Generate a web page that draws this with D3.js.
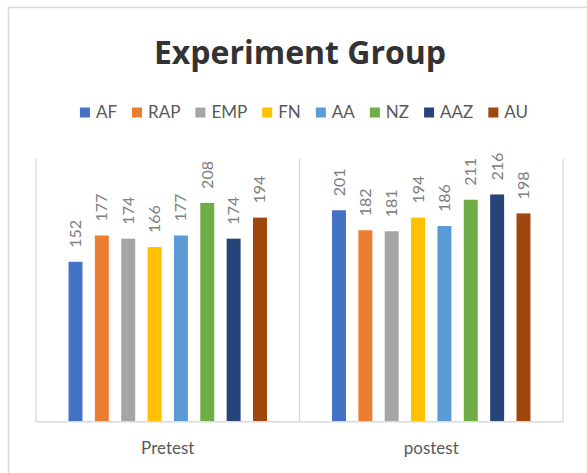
<!DOCTYPE html>
<html>
<head>
<meta charset="utf-8">
<script src="https://cdn.jsdelivr.net/npm/d3@7"></script>
<style>
  html, body { margin: 0; padding: 0; background: #fff; }
  svg { display: block; }
</style>
</head>
<body>
<svg id="chart" width="587" height="473"></svg>
<script>
const groups = ["Pretest", "postest"];
const series = ["AF", "RAP", "EMP", "FN", "AA", "NZ", "AAZ", "AU"];
const pretest = [152, 177, 174, 166, 177, 208, 174, 194];
const postest = [201, 182, 181, 194, 186, 211, 216, 198];
const colors = ["#4472C4", "#ED7D31", "#A5A5A5", "#FFC000", "#5B9BD5", "#70AD47", "#264478", "#9E480E"];
const yDomain = [0, 250];

const values = { "Pretest": pretest, "postest": postest };
const font = "Lato, 'Open Sans', sans-serif";

const svg = d3.select("#chart");
const W = 587, H = 473;

// chart border (extends beyond the right/bottom of the picture)
svg.append("path")
  .attr("d", `M8.5,${H} V7.5 H${W}`)
  .attr("fill", "none").attr("stroke", "#d9d9d9").attr("stroke-width", 1.5);

// title
svg.append("text")
  .attr("x", 300).attr("y", 64)
  .attr("text-anchor", "middle")
  .attr("font-family", "'Open Sans', Lato, sans-serif").attr("font-weight", "bold")
  .attr("font-size", 32).attr("fill", "#333333")
  .text("Experiment Group");

// scales
const plot = { left: 36, right: 563, top: 158.7, bottom: 421.7 };
const x0 = d3.scaleBand().domain(groups).range([plot.left, plot.right]).padding(0);
const x1 = d3.scaleBand().domain(series).range([0, x0.bandwidth()])
  .paddingInner(0.47).paddingOuter(1.234);
const y = d3.scaleLinear().domain(yDomain).range([plot.bottom, plot.top]);

// vertical separators
const seps = groups.map(g => x0(g)).concat([x0(groups[groups.length - 1]) + x0.bandwidth()]);
svg.append("g").selectAll("line").data(seps).join("line")
  .attr("x1", d => d).attr("x2", d => d)
  .attr("y1", plot.top).attr("y2", plot.bottom)
  .attr("stroke", "#d9d9d9").attr("stroke-width", 1.3);

// bars
const gG = svg.append("g").selectAll("g").data(groups).join("g")
  .attr("transform", g => `translate(${x0(g)},0)`);

gG.selectAll("rect").data(g => series.map((s, i) => ({ s, i, v: values[g][i] })))
  .join("rect")
  .attr("x", d => x1(d.s))
  .attr("width", x1.bandwidth())
  .attr("y", d => y(d.v))
  .attr("height", d => y(0) - y(d.v))
  .attr("fill", d => colors[d.i]);

// value labels (rotated)
gG.selectAll("text").data(g => series.map((s, i) => ({ s, i, v: values[g][i] })))
  .join("text")
  .attr("transform", d => `translate(${x1(d.s) + x1.bandwidth() / 2 + 5.5},${y(d.v) - 14}) rotate(-90)`)
  .attr("font-family", font).attr("font-size", 16).attr("fill", "#808080")
  .text(d => d.v);

// x axis line
svg.append("line")
  .attr("x1", plot.left).attr("x2", plot.right)
  .attr("y1", plot.bottom).attr("y2", plot.bottom)
  .attr("stroke", "#d9d9d9").attr("stroke-width", 1.5);

// category labels
svg.append("g").selectAll("text").data(groups).join("text")
  .attr("x", g => x0(g) + x0.bandwidth() / 2)
  .attr("y", 454)
  .attr("text-anchor", "middle")
  .attr("font-family", font).attr("font-size", 17).attr("fill", "#595959")
  .text(g => g);

// legend
const leg = svg.append("g");
const items = leg.selectAll("g").data(series).join("g");
items.append("rect").attr("width", 10).attr("height", 10).attr("y", -10.5)
  .attr("fill", (d, i) => colors[i]);
items.append("text").attr("x", 16).attr("y", 0)
  .attr("font-family", font).attr("font-size", 17).attr("fill", "#595959")
  .text(d => d);
let cx = 0;
items.each(function () {
  const w = 16 + this.querySelector("text").getComputedTextLength();
  d3.select(this).attr("transform", `translate(${cx},118)`);
  cx += w + 15;
});
const legW = cx - 15;
leg.attr("transform", `translate(${304 - legW / 2},0)`);
</script>
</body>
</html>
